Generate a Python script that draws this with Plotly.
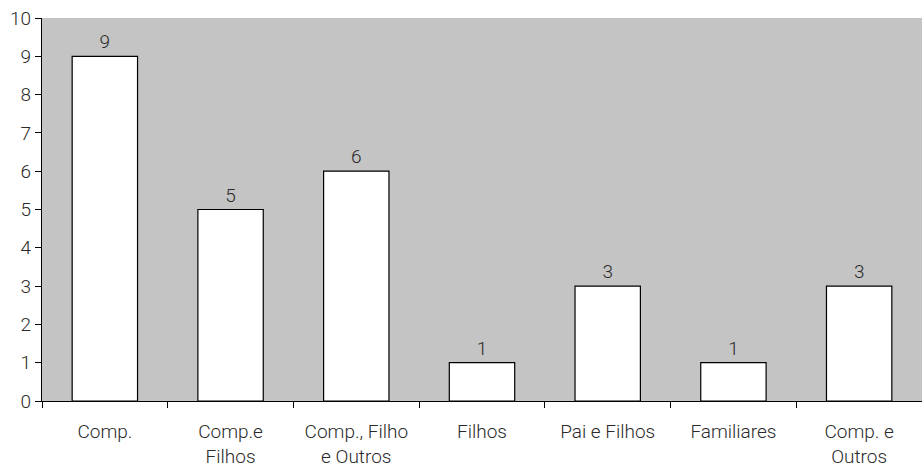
import plotly.graph_objects as go

categories = ["Comp.", "Comp.e<br>Filhos", "Comp., Filho<br>e Outros", "Filhos",
              "Pai e Filhos", "Familiares", "Comp. e<br>Outros"]
values = [9, 5, 6, 1, 3, 1, 3]
y_ticks = list(range(0, 11))

font = dict(family="Roboto", size=19, color="#2a2a2a", weight=300)

fig = go.Figure(
    go.Bar(
        x=categories,
        y=values,
        width=0.52,
        marker=dict(color="white", line=dict(color="black", width=1.2)),
        text=[str(v) for v in values],
        textposition="outside",
        textfont=font,
        cliponaxis=False,
    )
)

fig.update_layout(
    width=922,
    height=467,
    margin=dict(l=42, r=0, t=18, b=66),
    paper_bgcolor="white",
    plot_bgcolor="#c4c4c4",
    font=font,
    showlegend=False,
    bargap=0.48,
)

fig.update_xaxes(
    showline=True, linecolor="black", linewidth=1.2,
    ticks="outside", tickson="boundaries", ticklen=6, tickcolor="black",
    showgrid=False, tickfont=font, ticklabelstandoff=13,
)
fig.update_yaxes(
    range=[0, 10], tickvals=y_ticks, showline=True, linecolor="black", linewidth=1.2,
    ticks="outside", ticklen=6, tickcolor="black", showgrid=False, zeroline=False,
    tickfont=font,
)

fig.write_html("out.html")
